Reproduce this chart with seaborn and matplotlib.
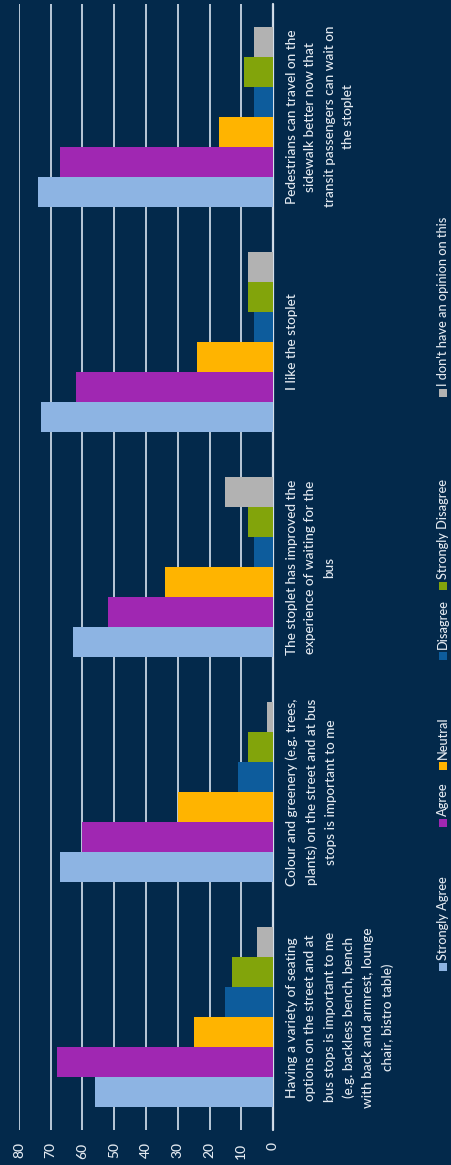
import numpy as np
import pandas as pd
import matplotlib
matplotlib.use("Agg")
import matplotlib.pyplot as plt
import seaborn as sns
from matplotlib.patches import Rectangle

categories = [
    "Having a variety of seating\noptions on the street and at\nbus stops is important to me\n(e.g. backless bench, bench\nwith back and armrest, lounge\nchair, bistro table)",
    "Colour and greenery (e.g. trees,\nplants) on the street and at bus\nstops is important to me",
    "The stoplet has improved the\nexperience of waiting for the\nbus",
    "I like the stoplet",
    "Pedestrians can travel on the\nsidewalk better now that\ntransit passengers can wait on\nthe stoplet",
]
series_names = ["Strongly Agree", "Agree", "Neutral", "Disagree",
                "Strongly Disagree", "I don't have an opinion on this"]
strongly_agree = [56, 67, 63, 73, 74]
agree = [68, 60, 52, 62, 67]
neutral = [25, 30, 34, 24, 17]
disagree = [15, 11, 6, 6, 6]
strongly_disagree = [13, 8, 8, 8, 9]
no_opinion = [5, 2, 15, 8, 6]
value_ticks = [0, 10, 20, 30, 40, 50, 60, 70, 80]

colors = ["#8db4e3", "#a027b2", "#ffb400", "#0d5c9c", "#82a40b", "#b2b2b2"]
bg = "#03294b"
txt = "#e4eaf1"

series = [strongly_agree, agree, neutral, disagree, strongly_disagree, no_opinion]
rows = []
for name, vals in zip(series_names, series):
    for cat, v in zip(categories, vals):
        rows.append({"category": cat, "response": name, "value": v})
df = pd.DataFrame(rows)

sns.set_theme(style="white")
plt.rcParams["font.family"] = ["Lato", "DejaVu Sans"]

W, H = 451, 1165
fig = plt.figure(figsize=(W / 100, H / 100), dpi=100)
fig.patch.set_facecolor(bg)

x0, x1 = 19, 273
y0, y1 = 4, 1130
ax = fig.add_axes([x0 / W, (H - y1) / H, (x1 - x0) / W, (y1 - y0) / H])
ax.set_facecolor(bg)

sns.barplot(data=df, x="value", y="category", hue="response",
            order=categories, hue_order=series_names, palette=colors,
            orient="h", width=0.8, saturation=1, legend=False,
            errorbar=None, linewidth=0, ax=ax)

ax.set_xlim(80, 0)
ax.set_ylim(-0.5, len(categories) - 0.5)
ax.set_xlabel("")
ax.set_ylabel("")
for s in ax.spines.values():
    s.set_visible(False)
ax.set_axisbelow(True)
ax.set_xticks(value_ticks)
ax.set_xticklabels([str(v) for v in value_ticks], rotation=90, color=txt,
                   fontsize=10, fontweight="medium")
ax.xaxis.grid(True, color="#c8d5e3", linewidth=1.3)
ax.yaxis.grid(False)
ax.axvline(0, color="#d5dfea", linewidth=1.6, zorder=0.5, clip_on=False)
ax.tick_params(axis="x", length=0, pad=9)

ax.yaxis.tick_right()
ax.set_yticks(range(len(categories)))
ax.set_yticklabels(categories, rotation=90, rotation_mode="anchor",
                   ha="center", va="top", multialignment="center",
                   linespacing=1.7, color=txt, fontsize=9.8, fontweight="medium")
ax.tick_params(axis="y", length=0, pad=9)

# legend drawn in pixel space, rotated like the chart
lax = fig.add_axes([0, 0, 1, 1])
lax.set_xlim(0, W)
lax.set_ylim(H, 0)
lax.axis("off")
legend_y = [967, 823, 766, 656, 586, 393]
lx = 443
for name, c, yc in zip(series_names, colors, legend_y):
    lax.add_patch(Rectangle((lx - 4, yc - 4), 8, 8, color=c, lw=0))
    lax.text(lx, yc - 7, name, rotation=90, rotation_mode="anchor",
             ha="left", va="center", color=txt, fontsize=9.2, fontweight="medium")

fig.savefig("out.png", dpi=100, facecolor=bg)
